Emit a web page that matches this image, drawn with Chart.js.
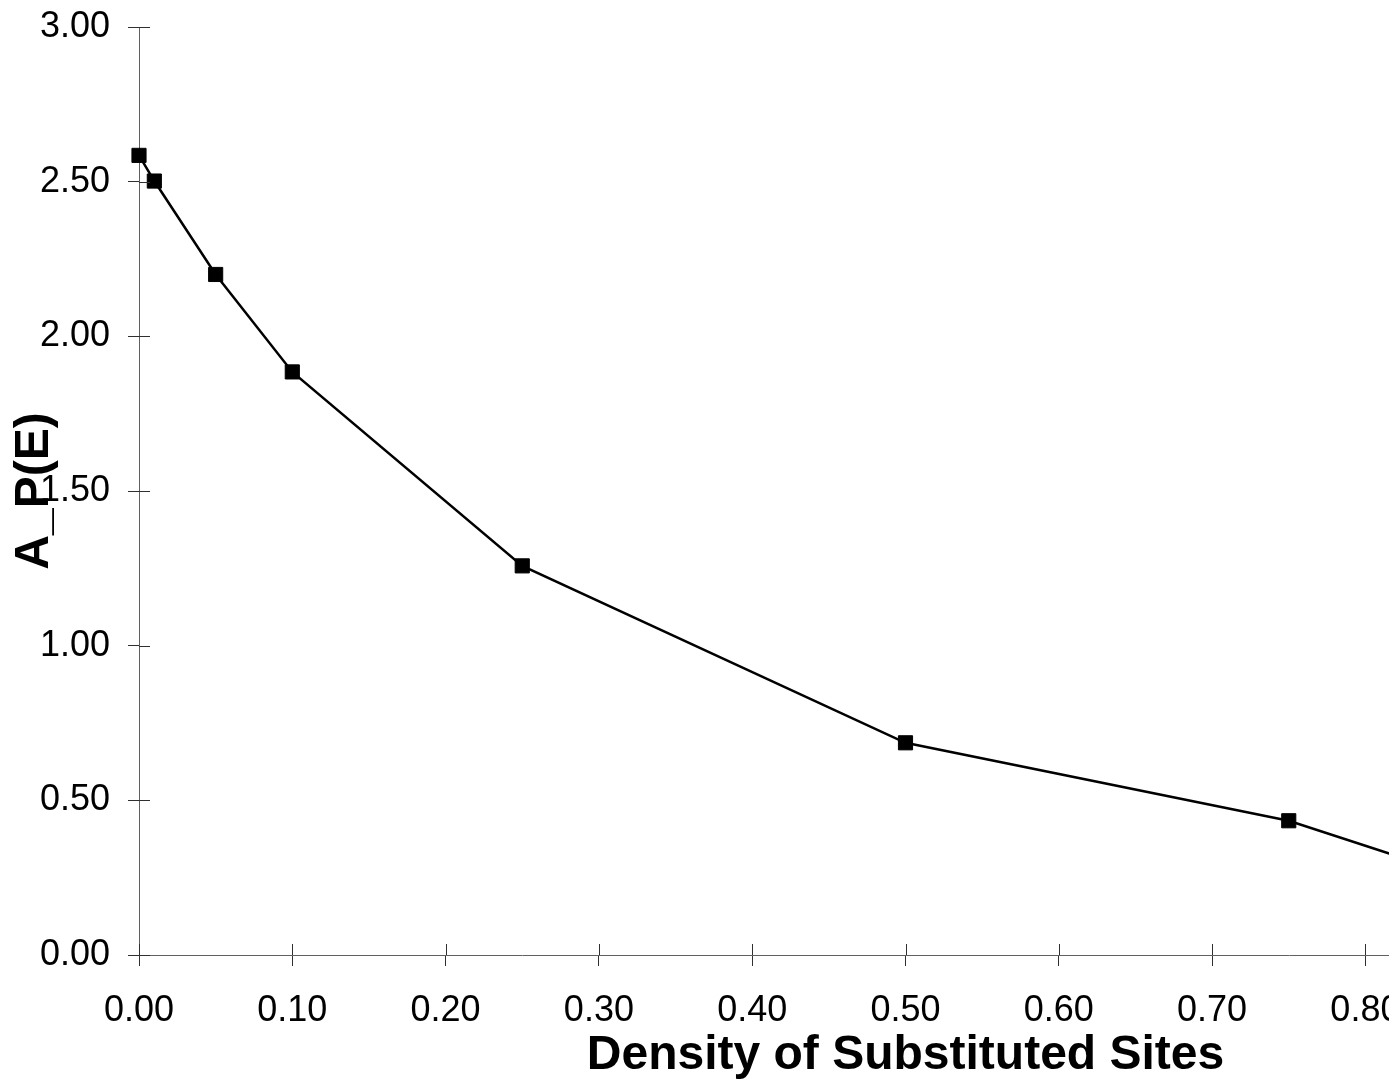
<!DOCTYPE html>
<html>
<head>
<meta charset="utf-8">
<title>A_P(E) vs Density of Substituted Sites</title>
<script src="https://cdn.jsdelivr.net/npm/chart.js@4.4.0/dist/chart.umd.min.js"></script>
<style>
    html, body {
        margin: 0;
        padding: 0;
        background: #ffffff;
        overflow: hidden;
    }
    #wrap {
        width: 1712px;
        height: 1086px;
    }
</style>
</head>
<body>
<div id="wrap">
    <canvas id="chart" width="1712" height="1086"></canvas>
</div>
<script>
// Data
const densities = [0.00, 0.01, 0.05, 0.10, 0.25, 0.50, 0.75, 1.00];
const apValues = [2.585, 2.502, 2.20, 1.885, 1.258, 0.686, 0.434, 0.03];

const xTicks = [0.0, 0.1, 0.2, 0.3, 0.4, 0.5, 0.6, 0.7, 0.8, 0.9, 1.0];
const yTicks = [0.0, 0.5, 1.0, 1.5, 2.0, 2.5, 3.0];

const xTitle = 'Density of Substituted Sites';
const yTitle = 'A_P(E)';

const FONT = '"Liberation Sans", Arial, sans-serif';

/**
 * Tick marks in the original cross the axis, Chart.js only draws the
 * outer half, so draw the inner half here.
 */
const innerTicks = {
    id: 'innerTicks',
    afterDraw(chart) {
        const ctx = chart.ctx;
        const area = chart.chartArea;
        const len = 11;
        ctx.save();
        ctx.strokeStyle = '#303030';
        ctx.lineWidth = 1;
        ctx.beginPath();
        chart.scales.x.ticks.forEach(t => {
            const px = Math.round(chart.scales.x.getPixelForValue(t.value)) + 0.5;
            ctx.moveTo(px, area.bottom);
            ctx.lineTo(px, area.bottom - len);
        });
        chart.scales.y.ticks.forEach(t => {
            const py = Math.round(chart.scales.y.getPixelForValue(t.value)) + 0.5;
            ctx.moveTo(area.left, py);
            ctx.lineTo(area.left + len, py);
        });
        ctx.stroke();
        ctx.restore();
    }
};

const ctx = document.getElementById('chart').getContext('2d');

new Chart(ctx, {
    type: 'line',
    data: {
        datasets: [{
            label: yTitle,
            data: densities.map((d, i) => ({ x: d, y: apValues[i] })),
            borderColor: '#000000',
            backgroundColor: '#000000',
            borderWidth: 2.5,
            pointStyle: 'rect',
            pointRadius: 10,
            pointBorderWidth: 1,
            pointBackgroundColor: '#000000',
            pointBorderColor: '#000000',
            tension: 0,
            fill: false,
            clip: false
        }]
    },
    options: {
        responsive: false,
        animation: false,
        devicePixelRatio: 1,
        layout: {
            padding: { top: 27, left: 0, right: 40, bottom: 0 }
        },
        plugins: {
            legend: { display: false },
            tooltip: { enabled: false }
        },
        scales: {
            x: {
                type: 'linear',
                min: 0,
                max: 1,
                afterBuildTicks(scale) {
                    scale.ticks = xTicks.map(v => ({ value: v }));
                },
                afterFit(scale) {
                    // fixed box, no extra room for the end labels
                    scale.height = 131;
                    scale.paddingLeft = 0;
                    scale.paddingRight = 0;
                },
                border: { display: true, color: '#606060', width: 1 },
                grid: {
                    display: true,
                    drawOnChartArea: false,
                    drawTicks: true,
                    tickLength: 11,
                    tickColor: '#303030'
                },
                ticks: {
                    padding: 23,
                    maxRotation: 0,
                    color: '#000000',
                    font: { family: FONT, size: 36 },
                    callback: v => Number(v).toFixed(2)
                },
                title: {
                    display: true,
                    text: xTitle,
                    color: '#000000',
                    font: { family: FONT, size: 48, weight: 'bold' },
                    padding: { top: 0, bottom: 1 }
                }
            },
            y: {
                type: 'linear',
                min: 0,
                max: 3,
                afterBuildTicks(scale) {
                    scale.ticks = yTicks.map(v => ({ value: v }));
                },
                afterFit(scale) {
                    scale.width = 139;
                    scale.paddingTop = 0;
                    scale.paddingBottom = 0;
                },
                border: { display: true, color: '#606060', width: 1 },
                grid: {
                    display: true,
                    drawOnChartArea: false,
                    drawTicks: true,
                    tickLength: 11,
                    tickColor: '#303030'
                },
                ticks: {
                    padding: 18,
                    color: '#000000',
                    font: { family: FONT, size: 36 },
                    callback: v => Number(v).toFixed(2)
                },
                title: {
                    display: true,
                    text: yTitle,
                    color: '#000000',
                    font: { family: FONT, size: 48, weight: 'bold' },
                    padding: { top: 6, bottom: 0 }
                }
            }
        }
    },
    plugins: [innerTicks]
});
</script>
</body>
</html>
